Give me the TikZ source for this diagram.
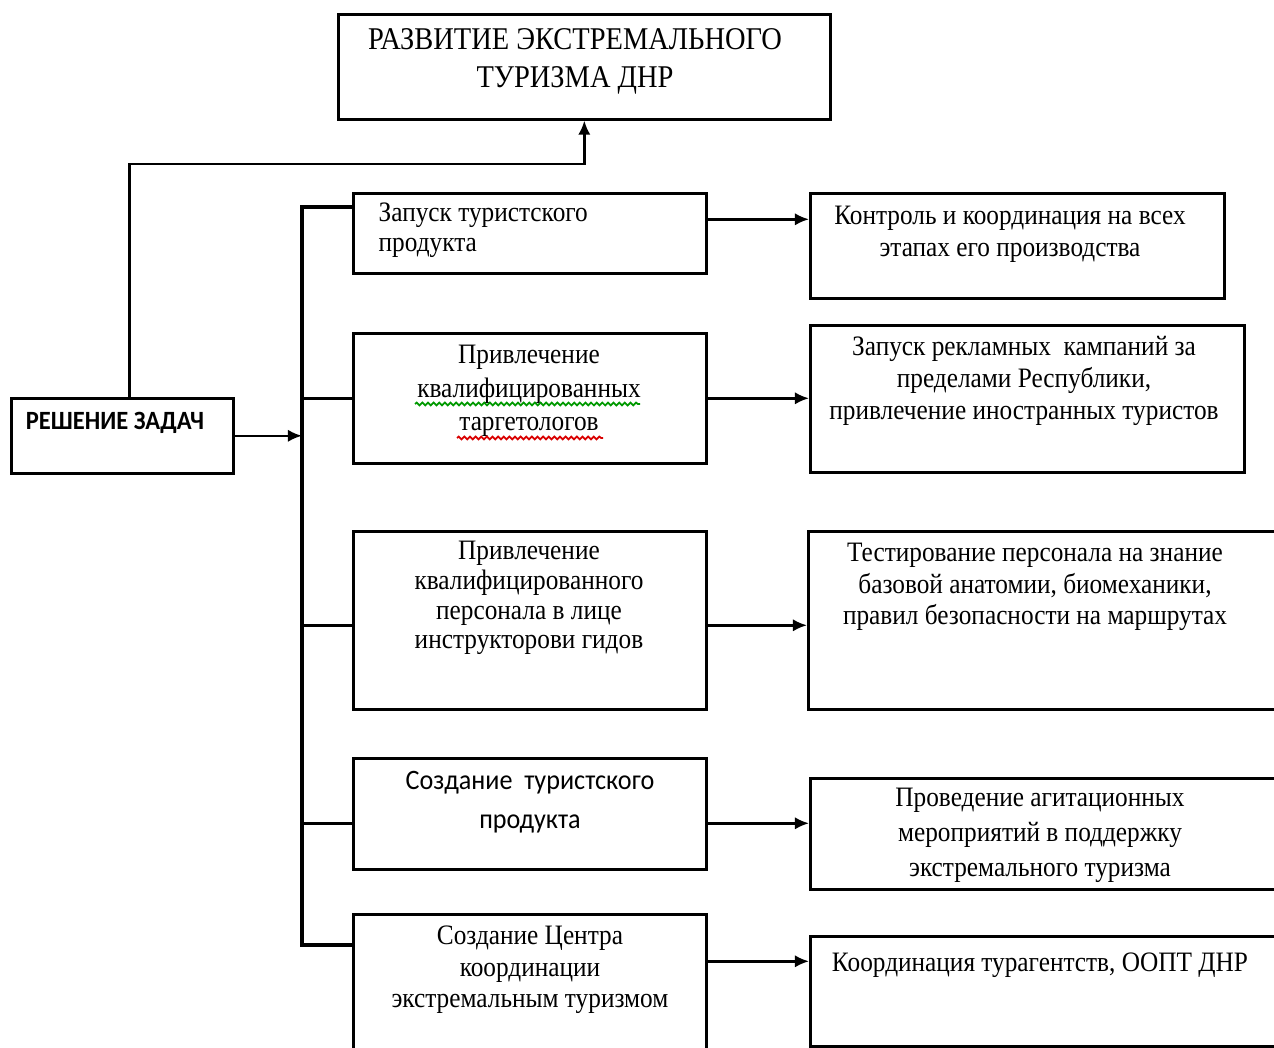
\documentclass[tikz,border=0pt]{standalone}
\usepackage{fontspec}
\setmainfont{Liberation Serif}[FakeStretch=0.9]
\newfontfamily\calfont{Carlito}[FakeStretch=0.93]
\usetikzlibrary{arrows.meta, decorations.pathmorphing}

\tikzset{
  blk/.style={draw, line width=0.75pt, inner sep=0pt, anchor=north west},
  txt/.style={align=center, inner sep=0pt, font=\fontsize{8}{8.5}\selectfont},
  rtxt/.style={align=center, inner sep=0pt, font=\fontsize{8}{9}\selectfont},
  arr/.style={line width=0.7pt, -{Latex[length=4pt,width=3.5pt]}},
  bus/.style={line width=1.2pt},
  squiggle/.style={line width=0.5pt, decorate,
    decoration={snake, amplitude=0.4pt, segment length=1.6pt}},
}

\begin{document}
\begin{tikzpicture}[x=0.1mm, y=-0.1mm]
\useasboundingbox (0,0) rectangle (1274,1048);
\clip (0,0) rectangle (1274,1048);

% Goal on top
\node[blk, minimum width=4.92cm, minimum height=1.05cm] (goal) at (337,13) {};
\node[txt, font=\fontsize{9}{10.8}\selectfont] (goaltxt) at (575,61)
    {РАЗВИТИЕ ЭКСТРЕМАЛЬНОГО\\ТУРИЗМА ДНР};

% Tasks box on the left
\node[blk, minimum width=2.22cm, minimum height=0.75cm] (solve) at (10,397) {};
\node[txt, font=\calfont\bfseries\fontsize{7.5}{9}\selectfont] (solvetxt) at (115,423)
    {РЕШЕНИЕ ЗАДАЧ};

% Middle column: tasks
\node[blk, minimum width=3.53cm, minimum height=0.80cm] (m1) at (352,192) {};
\node[blk, minimum width=3.53cm, minimum height=1.30cm] (m2) at (352,332) {};
\node[blk, minimum width=3.53cm, minimum height=1.78cm] (m3) at (352,530) {};
\node[blk, minimum width=3.53cm, minimum height=1.11cm] (m4) at (352,757) {};
\node[blk, minimum width=3.53cm, minimum height=1.50cm] (m5) at (352,913) {};

\node[txt, align=left, anchor=west] (t1) at (378,230) {Запуск туристского\\продукта};
\node[txt, font=\fontsize{8}{9.5}\selectfont] (t2) at (529,391)
    {Привлечение\\квалифицированных\\таргетологов};
\node[txt] (t3) at (529,598)
    {Привлечение\\квалифицированного\\персонала в лице\\инструкторови гидов};
\node[txt, font=\calfont\fontsize{8}{11}\selectfont] (t4) at (530,802)
    {Создание \ туристского\\продукта};
\node[txt, font=\fontsize{8}{9}\selectfont] (t5) at (530,970)
    {Создание Центра\\координации\\экстремальным туризмом};

% spell-check marks under t2
\draw[squiggle, green!60!black] (415,404) -- (640,404);
\draw[squiggle, red!85!black] (457,438) -- (603,438);

% Right column: measures
\node[blk, minimum width=4.14cm, minimum height=1.05cm] (r1) at (809,192) {};
\node[blk, minimum width=4.34cm, minimum height=1.47cm] (r2) at (809,324) {};
\node[blk, minimum width=4.80cm, minimum height=1.78cm] (r3) at (807,530) {};
\node[blk, minimum width=4.80cm, minimum height=1.11cm] (r4) at (809,777) {};
\node[blk, minimum width=4.80cm, minimum height=1.10cm] (r5) at (809,935) {};

\node[rtxt] (s1) at (1010,234) {Контроль и координация на всех\\этапах его производства};
\node[rtxt] (s2) at (1024,381)
    {Запуск рекламных \ кампаний за\\пределами Республики,\\привлечение иностранных туристов};
\node[rtxt] (s3) at (1035,587)
    {Тестирование персонала на знание\\базовой анатомии, биомеханики,\\правил безопасности на маршрутах};
\node[rtxt, font=\fontsize{8}{10}\selectfont] (s4) at (1040,835)
    {Проведение агитационных\\мероприятий в поддержку\\экстремального туризма};
\node[rtxt] (s5) at (1040,965) {Координация турагентств, ООПТ ДНР};

% Up to the goal
\draw[arr] ([xshift=0.07cm]solve.north) -- ++(0,-233) -| (goal.south);

% Bus
\coordinate (bustop) at (302,207);
\coordinate (busbot) at (302,945);
\draw[bus] (bustop -| m1.west) -- (bustop) -- (busbot) -- (busbot -| m5.west);
\draw[arr] (solve.east) -- (solve.east -| bustop);
\draw[line width=0.7pt] (m2.west) -- (m2.west -| bustop);
\draw[line width=0.7pt] ([yshift=-0.05cm]m3.west) -- ([yshift=-0.05cm]m3.west -| bustop);
\draw[line width=0.7pt] ([yshift=-0.095cm]m4.west) -- ([yshift=-0.095cm]m4.west -| bustop);

% Tasks to measures
\draw[arr] ([yshift=0.14cm]m1.east) -- ([yshift=0.14cm]m1.east -| r1.west);
\draw[arr] (m2.east) -- (m2.east -| r2.west);
\draw[arr] ([yshift=-0.05cm]m3.east) -- ([yshift=-0.05cm]m3.east -| r3.west);
\draw[arr] ([yshift=-0.095cm]m4.east) -- ([yshift=-0.095cm]m4.east -| r4.west);
\draw[arr] ([yshift=0.28cm]m5.east) -- ([yshift=0.28cm]m5.east -| r5.west);

\end{tikzpicture}
\end{document}
